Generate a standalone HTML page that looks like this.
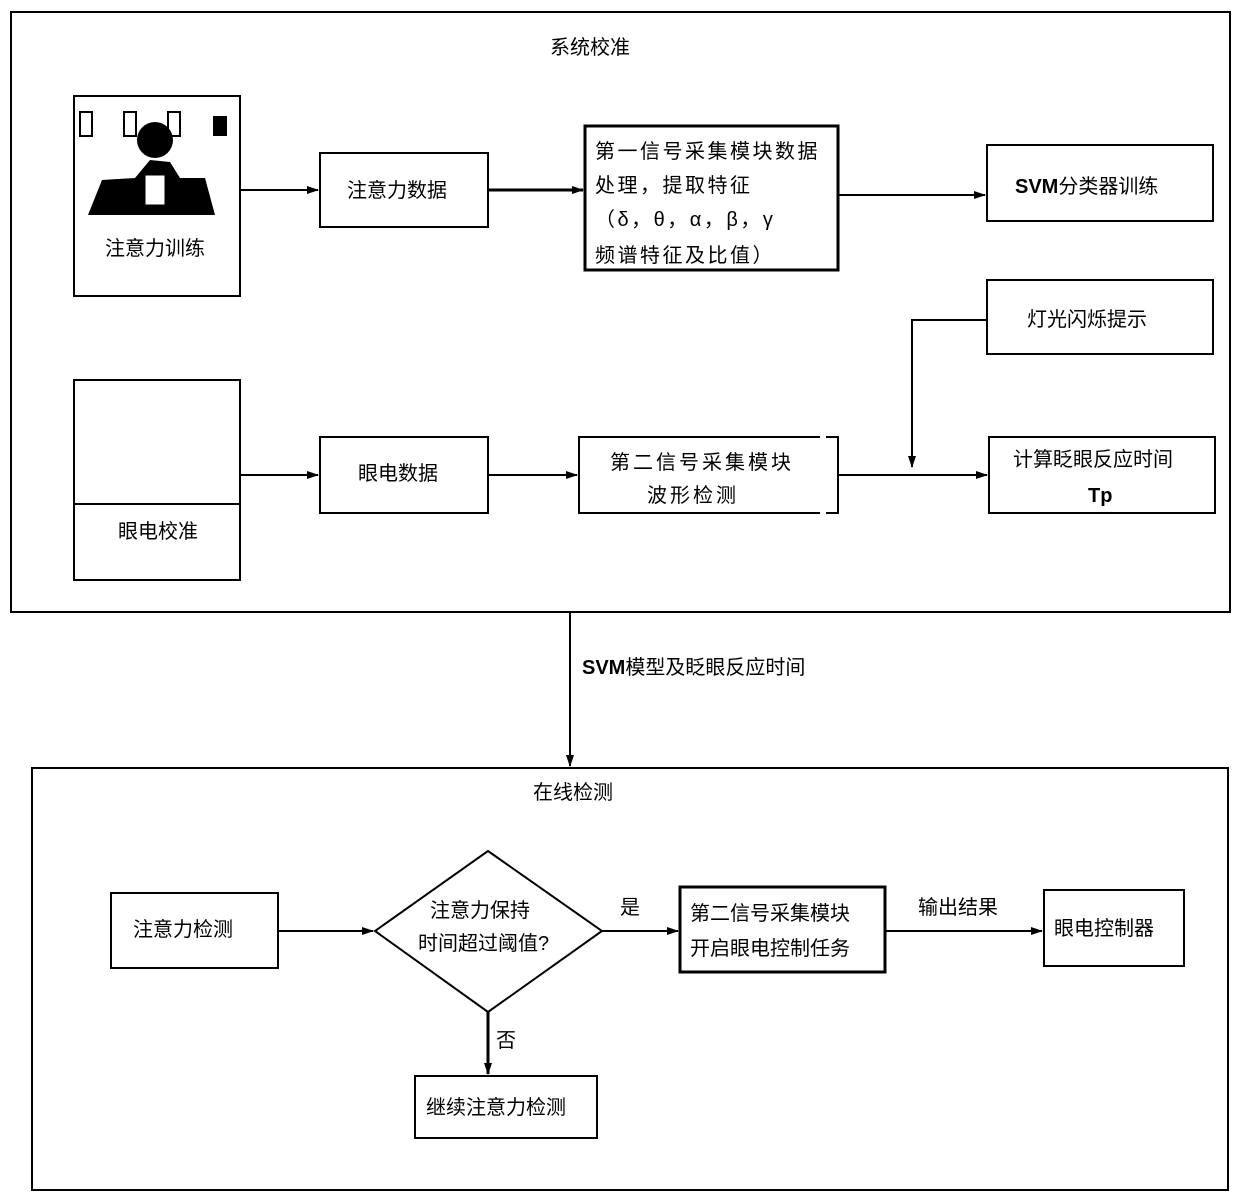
<!DOCTYPE html>
<html><head><meta charset="utf-8"><style>body{margin:0;background:#fff}svg{display:block}text{font-family:"Liberation Sans","Noto Sans CJK SC",sans-serif;font-size:20px;fill:#000}.s{letter-spacing:2.5px}</style></head><body>
<svg width="1240" height="1202" viewBox="0 0 1240 1202" xmlns="http://www.w3.org/2000/svg">
<defs><marker id="a" markerWidth="12" markerHeight="8" refX="11" refY="4" orient="auto" markerUnits="userSpaceOnUse"><path d="M0,0 L12,4 L0,8 Z" fill="#000"/></marker></defs>
<g fill="none" stroke="#000" stroke-width="2">
<rect x="11" y="12" width="1219" height="600"/>
<rect x="32" y="768" width="1196" height="422"/>
<rect x="74" y="96" width="166" height="200"/>
<rect x="320" y="153" width="168" height="74"/>
<rect x="585" y="126" width="253" height="144" stroke-width="3"/>
<rect x="987" y="145" width="226" height="76"/>
<rect x="987" y="280" width="226" height="74"/>
<rect x="74" y="380" width="166" height="200"/>
<line x1="74" y1="504" x2="240" y2="504"/>
<rect x="320" y="437" width="168" height="76"/>
<path d="M820,437 L579,437 L579,513 L820,513 M826,437 L838,437 L838,513 L826,513"/>
<rect x="989" y="437" width="226" height="76"/>
<rect x="111" y="893" width="167" height="75"/>
<path d="M488,851 L602,931 L488,1012 L375,931 Z"/>
<rect x="680" y="887" width="205" height="85" stroke-width="3"/>
<rect x="1044" y="890" width="140" height="76"/>
<rect x="415" y="1076" width="182" height="62"/>
<line x1="240" y1="190" x2="318" y2="190" marker-end="url(#a)"/>
<line x1="488" y1="190" x2="583" y2="190" stroke-width="3" marker-end="url(#a)"/>
<line x1="838" y1="195" x2="985" y2="195" marker-end="url(#a)"/>
<line x1="240" y1="475" x2="318" y2="475" marker-end="url(#a)"/>
<line x1="488" y1="475" x2="577" y2="475" marker-end="url(#a)"/>
<line x1="838" y1="475" x2="987" y2="475" marker-end="url(#a)"/>
<path d="M987,320 L912,320 L912,467" marker-end="url(#a)"/>
<line x1="570" y1="612" x2="570" y2="766" marker-end="url(#a)"/>
<line x1="278" y1="931" x2="373" y2="931" marker-end="url(#a)"/>
<line x1="602" y1="931" x2="678" y2="931" marker-end="url(#a)"/>
<line x1="885" y1="931" x2="1042" y2="931" marker-end="url(#a)"/>
<line x1="488" y1="1012" x2="488" y2="1074" stroke-width="3" marker-end="url(#a)"/>
</g>
<g fill="#000">
<path d="M88,215 L102,180 L135,178 L150,160 L170,162 L180,178 L205,178 L215,215 Z"/>
<circle cx="155" cy="140" r="18"/>
<rect x="80" y="112" width="12" height="24" fill="none" stroke="#000" stroke-width="2"/>
<rect x="124" y="112" width="12" height="24" fill="none" stroke="#000" stroke-width="2"/>
<rect x="168" y="112" width="12" height="24" fill="none" stroke="#000" stroke-width="2"/>
<rect x="213" y="116" width="14" height="20"/>
<rect x="145" y="175" width="20" height="30" fill="#fff" stroke="#000"/>
</g>
<text x="550" y="54" font-size="19">系统校准</text>
<text x="105" y="255">注意力训练</text>
<text x="347" y="197">注意力数据</text>
<text x="595" y="158" class="s">第一信号采集模块数据</text>
<text x="595" y="192" class="s">处理，提取特征</text>
<text x="595" y="226" class="s">（δ，θ，α，β，γ</text>
<text x="595" y="262" class="s">频谱特征及比值）</text>
<text x="1015" y="193" font-size="22" font-weight="bold">SVM<tspan font-size="20" font-weight="normal">分类器训练</tspan></text>
<text x="1027" y="326">灯光闪烁提示</text>
<text x="118" y="538">眼电校准</text>
<text x="358" y="480">眼电数据</text>
<text x="610" y="469" letter-spacing="3">第二信号采集模块</text>
<text x="647" y="502" letter-spacing="3">波形检测</text>
<text x="1013" y="466">计算眨眼反应时间</text>
<text x="1088" y="502" font-size="24" font-weight="bold">Tp</text>
<text x="582" y="674" font-size="22" font-weight="bold">SVM<tspan font-size="20" font-weight="normal">模型及眨眼反应时间</tspan></text>
<text x="533" y="799" font-size="19">在线检测</text>
<text x="133" y="936">注意力检测</text>
<text x="430" y="917">注意力保持</text>
<text x="418" y="950">时间超过阈值?</text>
<text x="620" y="914">是</text>
<text x="690" y="920">第二信号采集模块</text>
<text x="690" y="955">开启眼电控制任务</text>
<text x="918" y="914">输出结果</text>
<text x="1054" y="935">眼电控制器</text>
<text x="496" y="1047">否</text>
<text x="426" y="1114">继续注意力检测</text>
</svg>
</body></html>
